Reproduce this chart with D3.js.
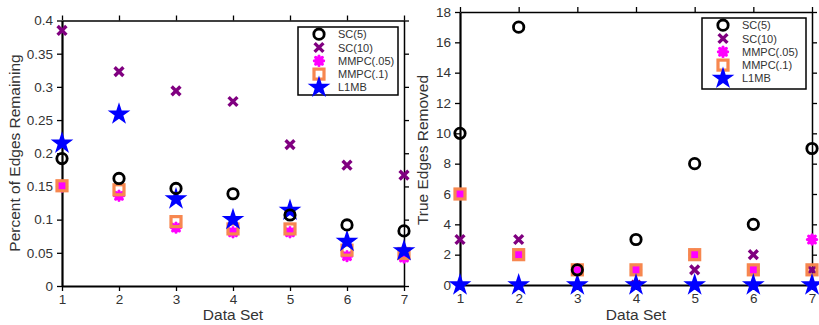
<!DOCTYPE html>
<html>
<head>
<meta charset="utf-8">
<script src="https://cdn.jsdelivr.net/npm/d3@7"></script>
<style>
  html, body { margin: 0; padding: 0; background: #fff; }
  svg { display: block; font-family: "Liberation Sans", Arial, sans-serif; }
</style>
</head>
<body>
<svg id="chart" width="819" height="325"></svg>
<script>
// Data sets 1..7
const dataSets = [1, 2, 3, 4, 5, 6, 7];
const seriesNames = ["SC(5)", "SC(10)", "MMPC(.05)", "MMPC(.1)", "L1MB"];

// Percent of edges remaining
const pctSC5    = [0.192, 0.162, 0.147, 0.139, 0.107, 0.092, 0.083];
const pctSC10   = [0.385, 0.323, 0.294, 0.278, 0.213, 0.182, 0.167];
const pctMMPC05 = [0.150, 0.136, 0.088, 0.081, 0.081, 0.045, 0.043];
const pctMMPC1  = [0.151, 0.145, 0.097, 0.086, 0.086, 0.054, 0.049];
const pctL1MB   = [0.215, 0.259, 0.131, 0.100, 0.114, 0.067, 0.053];

// True edges removed
const remSC5    = [10, 17, 1, 3, 8, 4, 9];
const remSC10   = [3, 3, 1, 0, 1, 2, 1];
const remMMPC05 = [6, 2, 1, 1, 2, 1, 3];
const remMMPC1  = [6, 2, 1, 1, 2, 1, 1];
const remL1MB   = [0, 0, 0, 0, 0, 0, 0];

const pctTicks = [0, 0.05, 0.1, 0.15, 0.2, 0.25, 0.3, 0.35, 0.4];
const pctTickLabels = ["0", "0.05", "0.1", "0.15", "0.2", "0.25", "0.3", "0.35", "0.4"];
const remTicks = [0, 2, 4, 6, 8, 10, 12, 14, 16, 18];

const colors = {
  "SC(5)": "#000000",
  "SC(10)": "#800080",
  "MMPC(.05)": "#ff00ff",
  "MMPC(.1)": "#f7874f",
  "L1MB": "#0000ff"
};

const svg = d3.select("#chart");

// Marker painters, each draws into a group centred at (0,0)
const markers = {
  "SC(5)": g => g.append("circle").attr("r", 5.2)
      .attr("fill", "none").attr("stroke", colors["SC(5)"]).attr("stroke-width", 2.8),
  "SC(10)": g => {
    const s = 4.4;
    g.append("path").attr("d", `M${-s},${-s}L${s},${s}M${-s},${s}L${s},${-s}`)
      .attr("stroke", colors["SC(10)"]).attr("stroke-width", 3.4).attr("fill", "none");
  },
  "MMPC(.05)": g => {
    const s = 4.6, d = s * 0.72;
    g.append("path")
      .attr("d", `M${-s},0L${s},0M0,${-s}L0,${s}M${-d},${-d}L${d},${d}M${-d},${d}L${d},${-d}`)
      .attr("stroke", colors["MMPC(.05)"]).attr("stroke-width", 3.2)
      .attr("stroke-linecap", "round").attr("fill", "none");
    g.append("circle").attr("r", 3.6).attr("fill", colors["MMPC(.05)"]);
  },
  "MMPC(.1)": g => g.append("rect").attr("x", -5).attr("y", -5)
      .attr("width", 10).attr("height", 10)
      .attr("fill", "none").attr("stroke", colors["MMPC(.1)"]).attr("stroke-width", 3.2),
  "L1MB": g => g.append("path")
      .attr("d", d3.symbol().type(d3.symbolStar).size(160)())
      .attr("fill", colors["L1MB"])
};

// Series drawing order (later ones sit on top)
const drawOrder = ["SC(10)", "MMPC(.05)", "MMPC(.1)", "L1MB", "SC(5)"];

function panel(cfg) {
  const x = d3.scaleLinear().domain([1, 7]).range([cfg.left, cfg.right]);
  const y = d3.scaleLinear().domain(cfg.domain).range([cfg.bottom, cfg.top]);
  const g = svg.append("g");

  // frame and ticks
  const tickLen = 5;
  const axL = g.append("g").attr("transform", `translate(${cfg.left},0)`)
    .call(d3.axisLeft(y).tickValues(cfg.ticks).tickFormat((d, i) => cfg.tickLabels[i])
      .tickSizeInner(tickLen).tickSizeOuter(0).tickPadding(4));
  const axR = g.append("g").attr("transform", `translate(${cfg.right},0)`)
    .call(d3.axisRight(y).tickValues(cfg.ticks).tickFormat("")
      .tickSizeInner(tickLen).tickSizeOuter(0));
  const axB = g.append("g").attr("transform", `translate(0,${cfg.bottom})`)
    .call(d3.axisBottom(x).tickValues(dataSets).tickFormat(d3.format("d"))
      .tickSizeInner(tickLen).tickSizeOuter(0).tickPadding(3));
  const axT = g.append("g").attr("transform", `translate(0,${cfg.top})`)
    .call(d3.axisTop(x).tickValues(dataSets).tickFormat("")
      .tickSizeInner(tickLen).tickSizeOuter(0));

  [axL, axR, axB, axT].forEach(a => {
    a.selectAll("path.domain").attr("stroke", "#000");
    a.selectAll(".tick line").attr("stroke", "#000").attr("stroke-width", 1.3);
    a.selectAll("text").attr("fill", "#333").style("font-size", "13.5px")
      .style("font-family", "'Liberation Sans', Arial, sans-serif");
  });
  axL.select("path.domain").attr("stroke-width", 2.2);
  axB.select("path.domain").attr("stroke-width", 2.2);
  axR.select("path.domain").attr("stroke-width", 1.5);
  axT.select("path.domain").attr("stroke-width", 1.5);

  // axis titles
  g.append("text")
    .attr("x", (cfg.left + cfg.right) / 2).attr("y", 320)
    .attr("text-anchor", "middle").attr("fill", "#333")
    .style("font-size", "15.5px").text("Data Set");
  g.append("text")
    .attr("transform", `translate(${cfg.yLabelX},${cfg.yLabelY}) rotate(-90)`)
    .attr("text-anchor", "middle").attr("fill", "#333")
    .style("font-size", "15.5px").text(cfg.yLabel);

  // data markers
  drawOrder.forEach(name => {
    const vals = cfg.series[name];
    vals.forEach((v, i) => {
      const m = g.append("g").attr("transform", `translate(${x(dataSets[i])},${y(v)})`);
      markers[name](m);
    });
  });

  // legend
  const lg = g.append("g");
  lg.append("rect")
    .attr("x", cfg.legend.x).attr("y", cfg.legend.y)
    .attr("width", cfg.legend.w).attr("height", cfg.legend.h)
    .attr("fill", "#fff").attr("stroke", "#000").attr("stroke-width", 1.5);
  seriesNames.forEach((name, i) => {
    const cy = cfg.legend.y + 7.2 + i * 13.3;
    const m = lg.append("g").attr("transform", `translate(${cfg.legend.x + 21},${cy})`);
    markers[name](m);
    lg.append("text")
      .attr("x", cfg.legend.x + 40).attr("y", cy + 4)
      .attr("fill", "#333").style("font-size", "11px").text(name);
  });
}

panel({
  left: 62, right: 404, top: 20.5, bottom: 286,
  domain: [0, 0.4], ticks: pctTicks, tickLabels: pctTickLabels,
  yLabel: "Percent of Edges Remaining", yLabelX: 20, yLabelY: 153,
  legend: { x: 298, y: 27, w: 100, h: 68 },
  series: {
    "SC(5)": pctSC5, "SC(10)": pctSC10, "MMPC(.05)": pctMMPC05,
    "MMPC(.1)": pctMMPC1, "L1MB": pctL1MB
  }
});

panel({
  left: 460, right: 812, top: 12, bottom: 285,
  domain: [0, 18], ticks: remTicks, tickLabels: remTicks.map(String),
  yLabel: "True Edges Removed", yLabelX: 428, yLabelY: 150,
  legend: { x: 702, y: 18, w: 104, h: 71 },
  series: {
    "SC(5)": remSC5, "SC(10)": remSC10, "MMPC(.05)": remMMPC05,
    "MMPC(.1)": remMMPC1, "L1MB": remL1MB
  }
});
</script>
</body>
</html>
